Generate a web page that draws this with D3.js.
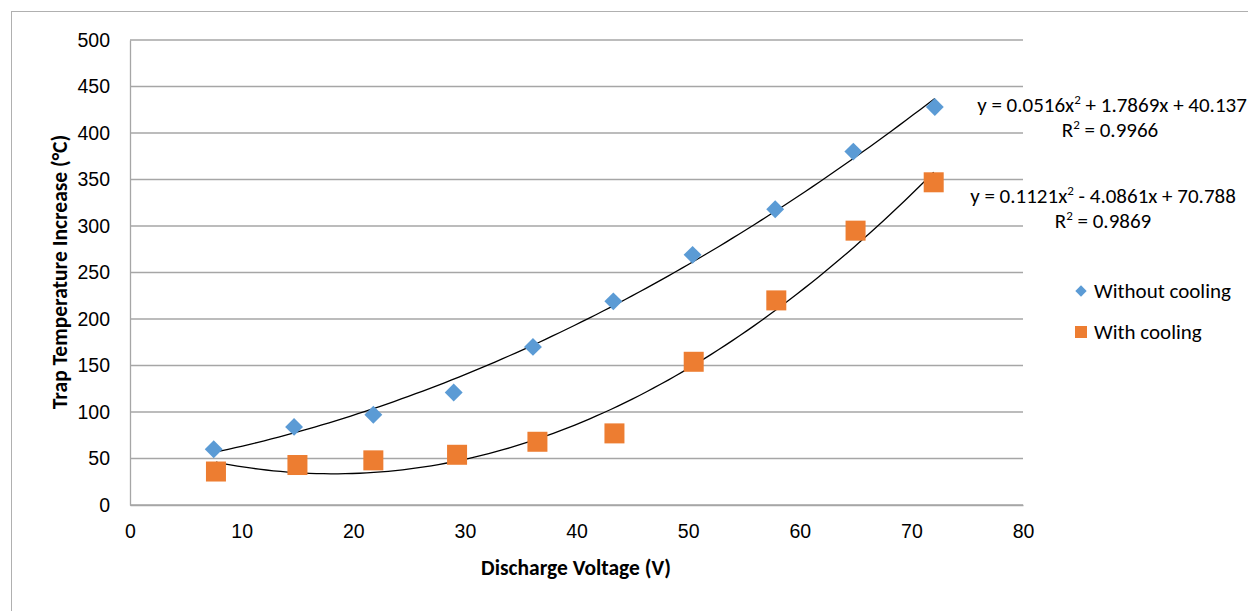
<!DOCTYPE html>
<html>
<head>
<meta charset="utf-8">
<script src="https://cdn.jsdelivr.net/npm/d3@7"></script>
<style>
  body { margin: 0; background: #fff; }
  svg { font-family: Calibri, Carlito, "Liberation Sans", Arial, sans-serif; }
  .tick text { font-size: 19.5px; fill: #000; }
</style>
</head>
<body>
<svg width="1248" height="611"></svg>
<script>
// data
const voltNoCool = [7.5, 14.7, 21.8, 29.0, 36.1, 43.3, 50.4, 57.8, 64.8, 72.1];
const tempNoCool = [60, 84, 97, 121, 170, 219, 269, 318, 380, 428];
const voltCool = [7.7, 15.0, 21.8, 29.3, 36.5, 43.4, 50.5, 57.9, 65.0, 72.0];
const tempCool = [36, 43, 48, 54, 68, 77, 154, 220, 295, 347];
const fitNoCool = [0.0516, 1.7869, 40.137];
const fitCool = [0.1121, -4.0861, 70.788];
const xTicks = [0, 10, 20, 30, 40, 50, 60, 70, 80];
const yTicks = [0, 50, 100, 150, 200, 250, 300, 350, 400, 450, 500];
const seriesNames = ["Without cooling", "With cooling"];

const svg = d3.select("svg");

//* frame of the chart area
svg.append("rect")
  .attr("x", 11.5).attr("y", 11.5)
  .attr("width", 1260).attr("height", 620)
  .attr("fill", "none").attr("stroke", "#b0b0b0");

//* scales
const x = d3.scaleLinear().domain([0, 80]).range([130, 1023]);
const y = d3.scaleLinear().domain([0, 500]).range([505, 40]);

//* grid
svg.append("g")
  .selectAll("line")
  .data(yTicks)
  .enter()
  .append("line")
  .attr("x1", x(0)).attr("x2", x(80))
  .attr("y1", d => y(d)).attr("y2", d => y(d))
  .attr("stroke", "#a6a6a6").attr("stroke-width", 1.3);

//* axes
const xAxis = svg.append("g")
  .attr("transform", `translate(0, ${y(0)})`)
  .call(d3.axisBottom(x).tickValues(xTicks).tickSize(0).tickPadding(19));
const yAxis = svg.append("g")
  .attr("transform", `translate(${x(0)}, 0)`)
  .call(d3.axisLeft(y).tickValues(yTicks).tickSize(0).tickPadding(20));
xAxis.select(".domain").attr("stroke", "#a6a6a6").attr("stroke-width", 1.3);
yAxis.select(".domain").attr("stroke", "#a6a6a6").attr("stroke-width", 1.3);
svg.selectAll(".tick text").style("font-family", "inherit");

//* axis titles
svg.append("text")
  .attr("x", 576).attr("y", 575)
  .attr("text-anchor", "middle")
  .attr("font-weight", "bold").attr("font-size", 21.5)
  .text("Discharge Voltage (V)");
svg.append("text")
  .attr("transform", `translate(67, ${272}) rotate(-90)`)
  .attr("text-anchor", "middle")
  .attr("font-weight", "bold").attr("font-size", 21.5)
  .text("Trap Temperature Increase (°C)");

//* trendlines
function trend(coef, xs) {
  const lo = d3.min(xs), hi = d3.max(xs);
  const pts = d3.range(0, 101).map(i => lo + (hi - lo) * i / 100);
  return pts.map(v => [v, coef[0] * v * v + coef[1] * v + coef[2]]);
}
const line = d3.line().x(d => x(d[0])).y(d => y(d[1]));
svg.append("path")
  .attr("d", line(trend(fitNoCool, voltNoCool)))
  .attr("fill", "none").attr("stroke", "#000").attr("stroke-width", 1.3);
svg.append("path")
  .attr("d", line(trend(fitCool, voltCool)))
  .attr("fill", "none").attr("stroke", "#000").attr("stroke-width", 1.3);

//* markers
const diamond = d3.symbol().type(d3.symbolSquare).size(160);
svg.append("g")
  .selectAll("path")
  .data(d3.zip(voltNoCool, tempNoCool))
  .enter()
  .append("path")
  .attr("d", diamond)
  .attr("transform", d => `translate(${x(d[0])}, ${y(d[1])}) rotate(45)`)
  .attr("fill", "#5b9bd5");
svg.append("g")
  .selectAll("rect")
  .data(d3.zip(voltCool, tempCool))
  .enter()
  .append("rect")
  .attr("x", d => x(d[0]) - 10).attr("y", d => y(d[1]) - 10)
  .attr("width", 20).attr("height", 20)
  .attr("fill", "#ed7d31");

//* equations
function eqLabel(cx, yy, rx, coef, r2) {
  const t = svg.append("text").attr("x", cx).attr("y", yy)
    .attr("text-anchor", "middle").attr("font-size", 21);
  const s1 = coef[1] < 0 ? " - " : " + ";
  t.append("tspan").text(`y = ${coef[0]}x`);
  t.append("tspan").attr("font-size", 13).attr("dy", -8).text("2");
  t.append("tspan").attr("dy", 8)
    .text(`${s1}${Math.abs(coef[1])}x + ${coef[2]}`);
  const r = svg.append("text").attr("x", rx).attr("y", yy + 25)
    .attr("text-anchor", "middle").attr("font-size", 21);
  r.append("tspan").text("R");
  r.append("tspan").attr("font-size", 13).attr("dy", -8).text("2");
  r.append("tspan").attr("dy", 8).text(` = ${r2}`);
}
eqLabel(1112, 112, 1110, fitNoCool, "0.9966");
eqLabel(1103, 203, 1103, fitCool, "0.9869");

//* legend
const legend = svg.append("g");
legend.append("path")
  .attr("d", d3.symbol().type(d3.symbolSquare).size(64))
  .attr("transform", "translate(1081, 291) rotate(45)")
  .attr("fill", "#5b9bd5");
legend.append("rect")
  .attr("x", 1075).attr("y", 326).attr("width", 12).attr("height", 12)
  .attr("fill", "#ed7d31");
legend.selectAll("text")
  .data(seriesNames)
  .enter()
  .append("text")
  .attr("x", 1094)
  .attr("y", (_, i) => 298 + i * 41)
  .attr("font-size", 21)
  .text(d => d);
</script>
</body>
</html>
